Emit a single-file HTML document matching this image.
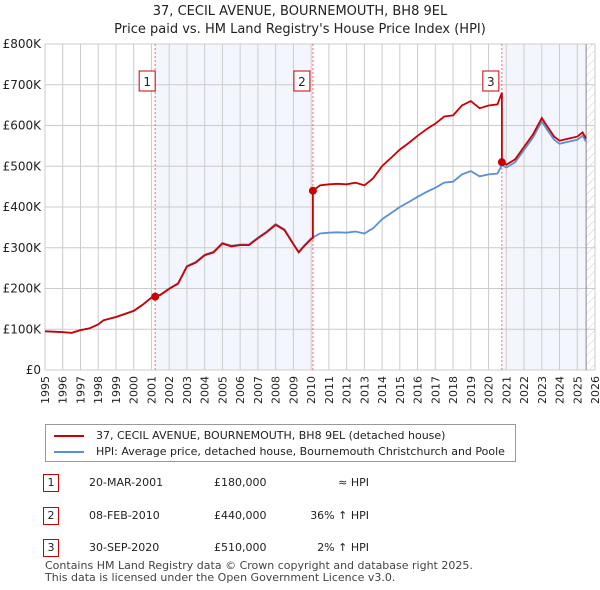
<!DOCTYPE html>
<html><head><meta charset="utf-8"><style>
body{margin:0;width:600px;height:590px;background:#fff;font-family:"DejaVu Sans","Liberation Sans",sans-serif;overflow:hidden;position:relative}
.t{position:absolute;font-size:12px;color:#222}
</style></head><body>
<svg id="c" width="600" height="590" style="position:absolute;left:0;top:0"></svg>
<div class="t" style="left:0;width:600px;text-align:center;top:3px;font-size:13px;line-height:18px">37, CECIL AVENUE, BOURNEMOUTH, BH8 9EL<br>Price paid vs. HM Land Registry's House Price Index (HPI)</div>
<div style="position:absolute;left:45px;top:424px;width:469px;height:36px;border:1px solid #999;font-size:11px;color:#222">
 <div style="position:absolute;left:8px;top:4px"><span style="display:inline-block;width:30px;height:2px;background:#c00;vertical-align:middle;margin-right:12px"></span>37, CECIL AVENUE, BOURNEMOUTH, BH8 9EL (detached house)</div>
 <div style="position:absolute;left:8px;top:20px"><span style="display:inline-block;width:30px;height:2px;background:#5b8fd6;vertical-align:middle;margin-right:12px"></span>HPI: Average price, detached house, Bournemouth Christchurch and Poole</div>
</div>
<div id="tbl"></div>
<div class="t" style="left:45px;top:560px;font-size:11px;line-height:12px;color:#444">Contains HM Land Registry data © Crown copyright and database right 2025.<br>This data is licensed under the Open Government Licence v3.0.</div>
<script>
const years=[1995,1996,1996.5,1997,1997.5,1998,1998.3,1999,2000,2000.5,2001,2001.5,2002,2002.5,2003,2003.5,2004,2004.5,2005,2005.5,2006,2006.5,2007,2007.5,2008,2008.5,2009,2009.3,2009.6,2010,2010.5,2011,2011.5,2012,2012.5,2013,2013.5,2014,2014.5,2015,2015.5,2016,2016.5,2017,2017.5,2018,2018.5,2019,2019.5,2020,2020.5,2020.75,2021,2021.5,2022,2022.5,2023,2023.3,2023.7,2024,2024.5,2025,2025.3,2025.5];
const hpi=[95,93,91,98,102,112,122,130,145,160,178,185,200,213,255,265,283,290,312,305,308,308,325,340,358,345,310,290,305,323,335,337,338,337,340,335,348,370,385,400,412,425,437,447,460,462,480,488,475,480,482,503,497,510,540,570,610,590,565,555,560,565,575,560];
const saleDates=[2001.21,2010.1,2020.75];
const salePrices=[180,440,510];
const yTicks=[0,100,200,300,400,500,600,700,800];
const yLabels=["£0","£100K","£200K","£300K","£400K","£500K","£600K","£700K","£800K"];
const NS="http://www.w3.org/2000/svg",svg=document.getElementById('c');
const X=y=>45+(y-1995)*(550/31), Y=v=>370-v*0.4075;
function mk(t,a,p){const e=document.createElementNS(NS,t);for(const k in a)e.setAttribute(k,a[k]);(p||svg).appendChild(e);return e;}
function hpiAt(d){for(let i=1;i<years.length;i++)if(years[i]>=d){const f=(d-years[i-1])/(years[i]-years[i-1]);return hpi[i-1]+f*(hpi[i]-hpi[i-1]);}return hpi[hpi.length-1];}
// shading
let r=mk('rect',{x:X(saleDates[0]),y:44,width:X(saleDates[1])-X(saleDates[0]),height:326,fill:'#eef3fc',opacity:0.7});

r=mk('rect',{x:X(saleDates[2]),y:44,width:X(2025.5)-X(saleDates[2]),height:326,fill:'#eef3fc',opacity:0.7});

const defs=mk('defs',{});const pt=mk('pattern',{id:'h',width:6,height:6,patternUnits:'userSpaceOnUse',patternTransform:'rotate(45)'},defs);mk('line',{x1:0,y1:0,x2:0,y2:6,stroke:'#ccc','stroke-width':1},pt);
r=mk('rect',{x:X(2025.5),y:44,width:X(2026)-X(2025.5),height:326,fill:'url(#h)'});

// grid
for(let yr=1995;yr<=2026;yr++){let l=mk('line',{x1:X(yr),x2:X(yr),y1:44,y2:370,stroke:'#ccc'});
 let t=mk('text',{x:0,y:0,transform:`translate(${X(yr)+4},${376}) rotate(-90)`,'text-anchor':'end','font-size':11,fill:'#222'});t.textContent=yr;}
yTicks.forEach((v,i)=>{let l=mk('line',{x1:45,x2:595,y1:Y(v),y2:Y(v),stroke:'#ccc'});
 let t=mk('text',{x:41,y:Y(v)+4,'text-anchor':'end','font-size':12,fill:'#222'});t.textContent=yLabels[i];});
let ax=mk('line',{x1:X(2025.5),x2:X(2025.5),y1:44,y2:370,stroke:'#888'});
// sale lines
saleDates.forEach((d,i)=>{let l=mk('line',{x1:X(d),x2:X(d),y1:44,y2:370,stroke:'#f66','stroke-dasharray':'2,2'});
 let g=mk('g',{});
 mk('rect',{x:X(d)-19+(i==0?3:0)-(i==0?0:0),y:71,width:16,height:20,fill:'#fff',stroke:'#c00'},g);
 let t=mk('text',{x:X(d)-11+(i==0?3:0),y:86,'text-anchor':'middle','font-size':12,fill:'#222'},g);t.textContent=i+1;});
// hpi line
let p=hpi.map((v,i)=>(i?'L':'M')+X(years[i]).toFixed(1)+','+Y(v).toFixed(1)).join('');
let hl=mk('path',{d:p,fill:'none',stroke:'#5b8fd6','stroke-width':1.8});
// property line
let pts=[];years.forEach((yr,i)=>{let f=1;for(let k=saleDates.length-1;k>=0;k--)if(yr>=saleDates[k]){f=salePrices[k]/hpiAt(saleDates[k]);break;}
 saleDates.forEach((d,k)=>{if(d>years[i-1]&&d<=yr&&i>0){const pf=k>0?salePrices[k-1]/hpiAt(saleDates[k-1]):1;pts.push([d,hpiAt(d)*pf]);pts.push([d,salePrices[k]]);}});
 pts.push([yr,hpi[i]*f]);});
let pl=mk('path',{d:pts.map((q,i)=>(i?'L':'M')+X(q[0]).toFixed(1)+','+Y(q[1]).toFixed(1)).join(''),fill:'none',stroke:'#c00','stroke-width':1.8});

saleDates.forEach((d,i)=>{let c=mk('circle',{cx:X(d),cy:Y(salePrices[i]),r:4,fill:'#c00'});});
// table
const rows=[["1","20-MAR-2001","£180,000","≈ HPI"],["2","08-FEB-2010","£440,000","36% ↑ HPI"],["3","30-SEP-2020","£510,000","2% ↑ HPI"]];
const tb=document.getElementById('tbl');
rows.forEach((rw,i)=>{const y=474+i*32.5;const d=document.createElement('div');
 
 d.style.cssText=`position:absolute;left:0;top:${y}px;width:600px;height:18px;font-size:11px;color:#222`;
 d.innerHTML=`<span style="position:absolute;left:43px;top:0;width:14px;height:16px;border:1px solid #c00;text-align:center;line-height:16px">${rw[0]}</span><span style="position:absolute;left:89px;top:2px">${rw[1]}</span><span style="position:absolute;left:214px;top:2px">${rw[2]}</span><span style="position:absolute;right:231px;top:2px">${rw[3]}</span>`;
 tb.appendChild(d);});
</script>
</body></html>
